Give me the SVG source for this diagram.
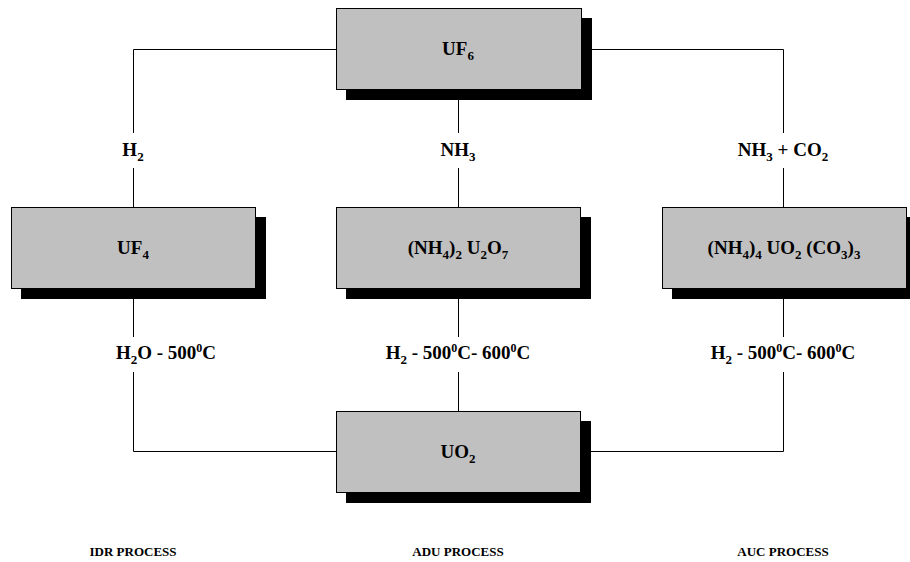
<svg xmlns="http://www.w3.org/2000/svg" width="910" height="562" viewBox="0 0 910 562">
<style>
.box{fill:#c0c0c0;stroke:#000;stroke-width:1}
.sh{fill:#000}
.ln{fill:none;stroke:#000;stroke-width:1}
text{font-family:"Liberation Serif","Times New Roman",serif;font-weight:bold;fill:#000;text-anchor:middle}
.t{font-size:19px}
.sb{font-size:13px;baseline-shift:-5px}
.sp{font-size:12px;baseline-shift:7px}
.cap{font-size:13px}
</style>
<rect width="910" height="562" fill="#fff"/>
<g id="connectors">
<polyline class="ln" points="336,49.5 133.5,49.5 133.5,133"/>
<line class="ln" x1="133.5" y1="168" x2="133.5" y2="207"/>
<polyline class="ln" points="582,49.5 783.5,49.5 783.5,133"/>
<line class="ln" x1="783.5" y1="168" x2="783.5" y2="207"/>
<line class="ln" x1="458.5" y1="100" x2="458.5" y2="133"/>
<line class="ln" x1="458.5" y1="168" x2="458.5" y2="207"/>
<line class="ln" x1="133.5" y1="288" x2="133.5" y2="337"/>
<polyline class="ln" points="133.5,372 133.5,451.5 336,451.5"/>
<line class="ln" x1="458.5" y1="288" x2="458.5" y2="337"/>
<line class="ln" x1="458.5" y1="372" x2="458.5" y2="411"/>
<line class="ln" x1="783.5" y1="288" x2="783.5" y2="337"/>
<polyline class="ln" points="783.5,372 783.5,451.5 582,451.5"/>
<text class="t" x="133" y="156">H<tspan class="sb">2</tspan></text>
<text class="t" x="458" y="156">NH<tspan class="sb">3</tspan></text>
<text class="t" x="783" y="156">NH<tspan class="sb">3</tspan> + CO<tspan class="sb">2</tspan></text>
<text class="t" x="166" y="359">H<tspan class="sb">2</tspan>O - 500<tspan class="sp">0</tspan>C</text>
<text class="t" x="458" y="359">H<tspan class="sb">2</tspan> - 500<tspan class="sp">0</tspan>C- 600<tspan class="sp">0</tspan>C</text>
<text class="t" x="783" y="359">H<tspan class="sb">2</tspan> - 500<tspan class="sp">0</tspan>C- 600<tspan class="sp">0</tspan>C</text>
</g>
<g id="uf6">
<rect class="sh" x="346" y="18" width="246" height="82"/>
<rect class="box" x="336.5" y="8.5" width="245" height="81"/>
<text class="t" x="458" y="55">UF<tspan class="sb">6</tspan></text>
</g>
<g id="uf4">
<rect class="sh" x="21" y="217" width="245" height="82"/>
<rect class="box" x="11.5" y="207.5" width="244" height="81"/>
<text class="t" x="133" y="254">UF<tspan class="sb">4</tspan></text>
</g>
<g id="adu">
<rect class="sh" x="346" y="217" width="245" height="82"/>
<rect class="box" x="336.5" y="207.5" width="244" height="81"/>
<text class="t" x="458" y="254">(NH<tspan class="sb">4</tspan>)<tspan class="sb">2</tspan> U<tspan class="sb">2</tspan>O<tspan class="sb">7</tspan></text>
</g>
<g id="auc">
<rect class="sh" x="672" y="217" width="245" height="82"/>
<rect class="box" x="662.5" y="207.5" width="244" height="81"/>
<text class="t" x="784" y="254">(NH<tspan class="sb">4</tspan>)<tspan class="sb">4</tspan> UO<tspan class="sb">2</tspan> (CO<tspan class="sb">3</tspan>)<tspan class="sb">3</tspan></text>
</g>
<g id="uo2">
<rect class="sh" x="346" y="421" width="245" height="82"/>
<rect class="box" x="336.5" y="411.5" width="244" height="81"/>
<text class="t" x="458" y="458">UO<tspan class="sb">2</tspan></text>
</g>
<g id="captions">
<text class="cap" x="133" y="556">IDR PROCESS</text>
<text class="cap" x="458" y="556">ADU PROCESS</text>
<text class="cap" x="783" y="556">AUC PROCESS</text>
</g>
</svg>
